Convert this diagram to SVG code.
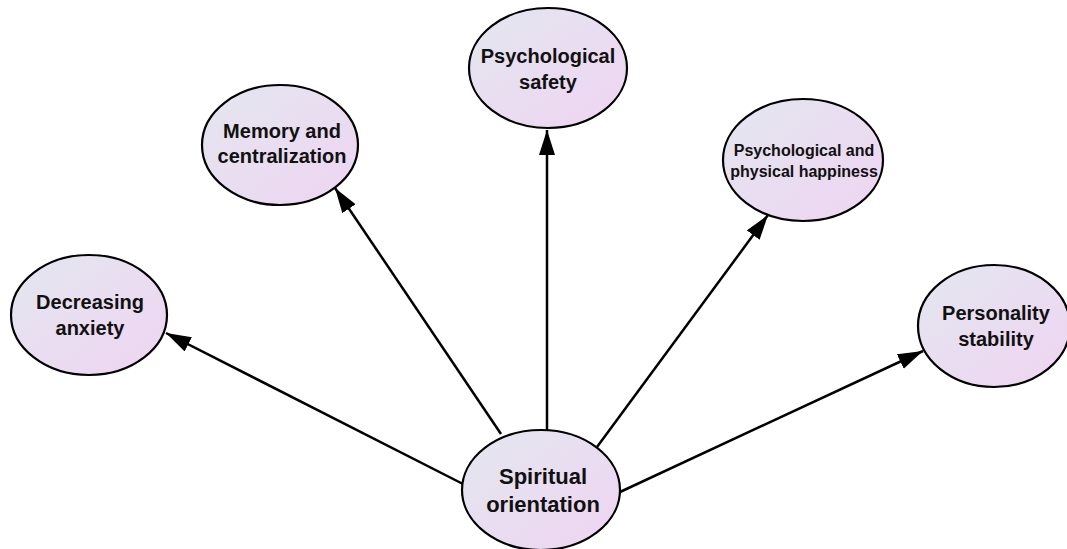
<svg xmlns="http://www.w3.org/2000/svg" width="1067" height="549" viewBox="0 0 1067 549">
<defs>
<linearGradient id="g" x1="0" y1="0" x2="1" y2="1">
<stop offset="0" stop-color="#e3e7ef"/>
<stop offset="1" stop-color="#efd4f2"/>
</linearGradient>
<marker id="ah" markerUnits="userSpaceOnUse" markerWidth="28" markerHeight="18" refX="25" refY="8" orient="auto">
<path d="M0,0 L25,8 L0,16 z" fill="#000"/>
</marker>
<style>
.n ellipse{fill:url(#g);stroke:#000;stroke-width:2.2}
.n text{font-family:"Liberation Sans",Arial,sans-serif;font-weight:bold;fill:#111;text-anchor:middle}
.c line{stroke:#000;stroke-width:2.5;marker-end:url(#ah)}
</style>
</defs>
<rect width="1067" height="549" fill="#fff"/>
<g id="connectors" class="c">
<line x1="463" y1="484" x2="166" y2="333"/>
<line x1="501" y1="434" x2="335" y2="188"/>
<line x1="547" y1="430" x2="547" y2="130"/>
<line x1="597" y1="447" x2="768" y2="215"/>
<line x1="620" y1="492" x2="923" y2="351"/>
</g>
<g id="spiritual" class="n">
<ellipse cx="541" cy="490" rx="79" ry="60"/>
<text x="543" y="484" font-size="22">Spiritual</text>
<text x="543" y="512" font-size="22">orientation</text>
</g>
<g id="anxiety" class="n">
<ellipse cx="89" cy="315" rx="78" ry="60"/>
<text x="90" y="309" font-size="20">Decreasing</text>
<text x="90" y="335" font-size="20">anxiety</text>
</g>
<g id="memory" class="n">
<ellipse cx="280" cy="145" rx="78" ry="60"/>
<text x="282" y="138" font-size="20">Memory and</text>
<text x="282" y="163" font-size="20">centralization</text>
</g>
<g id="safety" class="n">
<ellipse cx="548" cy="68" rx="79" ry="60"/>
<text x="548" y="63" font-size="20">Psychological</text>
<text x="548" y="89" font-size="20">safety</text>
</g>
<g id="happiness" class="n">
<ellipse cx="803" cy="160" rx="80" ry="61"/>
<text x="804" y="156" font-size="16">Psychological and</text>
<text x="804" y="177" font-size="16">physical happiness</text>
</g>
<g id="personality" class="n">
<ellipse cx="994" cy="326" rx="76" ry="61"/>
<text x="996" y="320" font-size="20">Personality</text>
<text x="996" y="346" font-size="20">stability</text>
</g>
</svg>
